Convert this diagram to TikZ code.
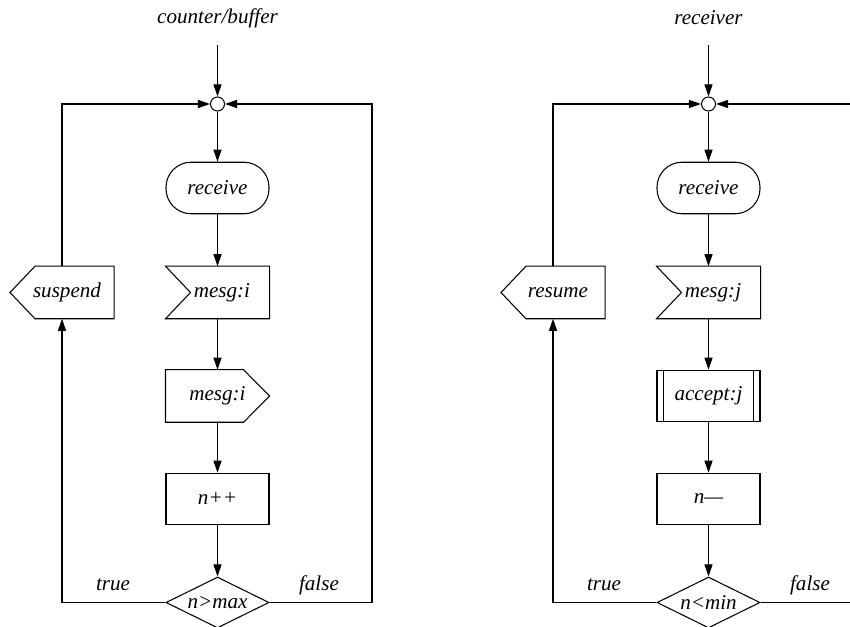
\documentclass[tikz,border=0pt,12pt]{standalone}
\usepackage{fontspec}
\setmainfont{Liberation Serif}
\usetikzlibrary{arrows.meta, positioning, shapes.geometric}

% outlines of the message flags
\newcommand{\getflag}[1]{\draw (#1.north west) -- (#1.north east) -- (#1.south east) -- (#1.south west) -- ([xshift=0.5cm]#1.west) -- cycle;}
\newcommand{\putflag}[1]{\draw (#1.north west) -- ([xshift=-0.52cm]#1.north east) -- (#1.east) -- ([xshift=-0.52cm]#1.south east) -- (#1.south west) -- cycle;}
\newcommand{\backflag}[1]{\draw (#1.west) -- ([xshift=0.5cm]#1.north west) -- (#1.north east) -- (#1.south east) -- ([xshift=0.5cm]#1.south west) -- cycle;}

\begin{document}
\begin{tikzpicture}[
    line width=0.6pt,
    every node/.style={font=\itshape},
    flag/.style={rectangle, minimum width=2.06cm, minimum height=1.03cm, inner sep=0pt},
    box/.style={flag, draw},
    start/.style={box, rounded corners=0.5cm},
    task/.style={box, path picture={
        \draw ([xshift=0.13cm]path picture bounding box.north west) -- ([xshift=0.13cm]path picture bounding box.south west)
              ([xshift=-0.13cm]path picture bounding box.north east) -- ([xshift=-0.13cm]path picture bounding box.south east);}},
    test/.style={draw, diamond, aspect=2, minimum width=2.06cm, minimum height=1.02cm, inner sep=0pt},
    joint/.style={draw, circle, minimum size=0.28cm, inner sep=0pt},
    flow/.style={-{Triangle[length=0.24cm, width=0.16cm]}}
]
    \useasboundingbox (0,0) rectangle (17,-12.54);
    \clip (0,0) rectangle (17,-12.54);

    % counter/buffer
    \begin{scope}[shift={(0,0)}]
        \node (title) at (4.35,-0.36) {counter/buffer};
        \coordinate (in) at (4.35,-0.9);
        \node[joint] (join) at (4.35,-2.08) {};
        \node[start] (recv) at (4.35,-3.76) {receive};
        \node[flag] (get) at (4.35,-5.85) {\hspace*{0.18cm}mesg:i};
        \node[flag] (put) at (4.35,-7.92) {mesg:i};
        \node[box] (count) at (4.35,-9.98) {n++};
        \node[test] (check) at (4.35,-12.05) {n>max};
        \node[flag] (halt) at (1.24,-5.85) {\hspace*{0.2cm}suspend};
        \getflag{get}
        \putflag{put}
        \backflag{halt}
        \coordinate (loop) at (7.44,-2.08);
        \draw[flow] (in) -- (join);
        \draw[flow] (join) -- (recv);
        \draw[flow] (recv) -- (get);
        \draw[flow] (get) -- (put);
        \draw[flow] (put) -- (count);
        \draw[flow] (count) -- (check);
        \draw[flow] (check.west) -| (halt.south);
        \draw[flow] (halt.north) |- (join.west);
        \draw[flow] (check.east) -| (loop) -- (join.east);
        \node (yes) at (2.26,-11.7) {true};
        \node (no) at (6.38,-11.7) {false};
    \end{scope}

    % receiver
    \begin{scope}[shift={(9.82,0)}]
        \node (title) at (4.35,-0.36) {receiver};
        \coordinate (in) at (4.35,-0.9);
        \node[joint] (join) at (4.35,-2.08) {};
        \node[start] (recv) at (4.35,-3.76) {receive};
        \node[flag] (get) at (4.35,-5.85) {\hspace*{0.18cm}mesg:j};
        \node[task] (take) at (4.35,-7.92) {accept:j};
        \node[box] (count) at (4.35,-9.98) {n—};
        \node[test] (check) at (4.35,-12.05) {n<min};
        \node[flag] (wake) at (1.24,-5.85) {\hspace*{0.2cm}resume};
        \getflag{get}
        \backflag{wake}
        \coordinate (loop) at (7.44,-2.08);
        \draw[flow] (in) -- (join);
        \draw[flow] (join) -- (recv);
        \draw[flow] (recv) -- (get);
        \draw[flow] (get) -- (take);
        \draw[flow] (take) -- (count);
        \draw[flow] (count) -- (check);
        \draw[flow] (check.west) -| (wake.south);
        \draw[flow] (wake.north) |- (join.west);
        \draw[flow] (check.east) -| (loop) -- (join.east);
        \node (yes) at (2.26,-11.7) {true};
        \node (no) at (6.38,-11.7) {false};
    \end{scope}
\end{tikzpicture}
\end{document}
